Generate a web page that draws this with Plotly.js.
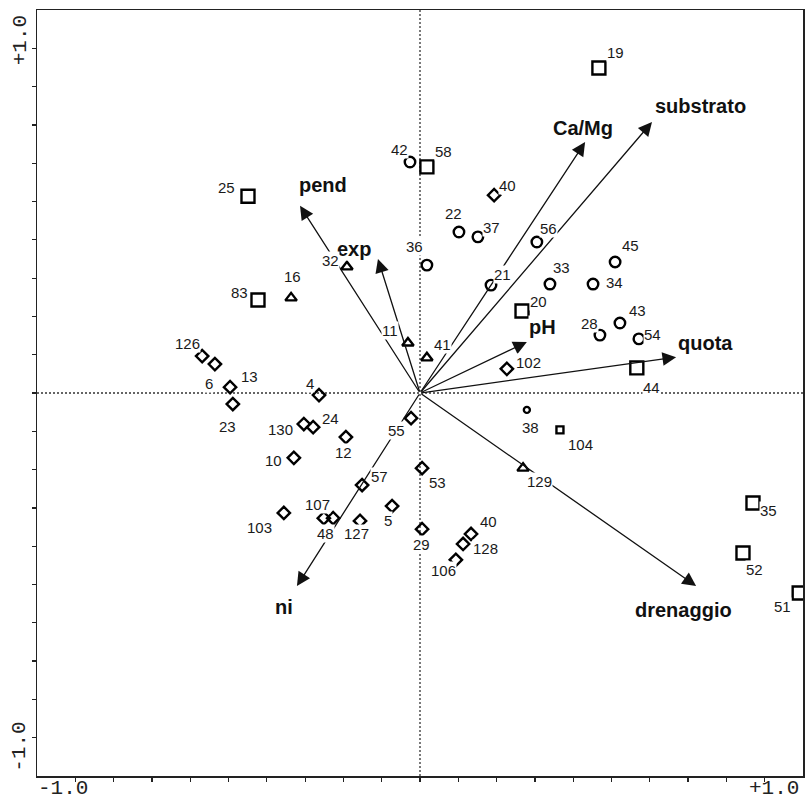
<!DOCTYPE html>
<html><head><meta charset="utf-8">
<script src="https://cdn.plot.ly/plotly-3.0.1.min.js"></script>
<style>html,body{margin:0;padding:0;background:#fff}</style>
</head><body><div id="chart" style="width:805px;height:801px"></div>
<script>
// ---------------- DATA ----------------
const squareIds = ['19','58','25','83','20','44','35','52','51','104'];
const squareX = [0.519,0.020,-0.499,-0.470,0.296,0.629,0.966,0.937,1.100,0.406];
const squareY = [0.943,0.656,0.571,0.270,0.238,0.073,-0.319,-0.464,-0.580,-0.107];

const circleIds = ['42','22','37','36','56','21','33','45','34','43','28','54','38'];
const circleX = [-0.029,0.113,0.168,0.020,0.339,0.206,0.377,0.566,0.502,0.580,0.522,0.635,0.310];
const circleY = [0.670,0.467,0.453,0.371,0.438,0.313,0.316,0.380,0.316,0.203,0.168,0.157,-0.049];

const diamondIds = ['40','102','126','6','13','23','4','130','24','12','10','55','53','57','5','103','107','48','127','29','40','128','106'];
const diamondX = [0.215,0.252,-0.632,-0.595,-0.551,-0.543,-0.293,-0.337,-0.310,-0.215,-0.366,-0.026,0.006,-0.168,-0.081,-0.395,-0.279,-0.252,-0.174,0.006,0.148,0.125,0.104];
const diamondY = [0.574,0.070,0.107,0.084,0.017,-0.032,-0.006,-0.090,-0.099,-0.128,-0.188,-0.073,-0.218,-0.267,-0.328,-0.348,-0.363,-0.363,-0.371,-0.395,-0.409,-0.438,-0.484];

const triangleIds = ['32','16','11','41','129'];
const triangleX = [-0.212,-0.374,-0.035,0.020,0.299];
const triangleY = [0.366,0.276,0.145,0.102,-0.218];

const envVars = ['pend','exp','Ca/Mg','substrato','pH','quota','drenaggio','ni'];
const envX = [-0.348,-0.122,0.479,0.673,0.310,0.743,0.801,-0.357];
const envY = [0.543,0.389,0.728,0.786,0.148,0.104,-0.560,-0.560];

const axisTickLabels = ['-1.0','+1.0'];

// ---------------- STYLE / LABEL PLACEMENT (pixels) ----------------
const squareLabelOff = [[17,15],[17,15],[-21,9],[-18,7],[16,9],[15,-20],[16,-8],[12,-17],[-17,-14],[21,-15]];
const circleLabelOff = [[-11,13],[-5,19],[14,9],[-12,19],[12,14],[11,11],[12,17],[15,17],[21,2],[18,13],[-10,12],[14,4],[4,-18]];
const diamondLabelOff = [[13,10],[22,6],[-15,13],[-6,-19],[19,11],[-5,-22],[-9,12],[-23,-5],[17,9],[-2,-15],[-20,-3],[-15,-12],[15,-14],[17,9],[-4,-14],[-24,-15],[-6,14],[-8,-15],[-4,-13],[-1,-15],[17,12],[22,-5],[-12,-11]];
const triangleLabelOff = [[-16,6],[1,21],[-18,13],[16,13],[16,-13]];
const envLabelOff = [[23,21],[-24,10],[-2,14],[49,16],[16,15],[29,14],[-13,-24],[-13,-21]];
const smallIds = ['104','38'];

const INK = '#000';
const R = 10/9;
const ticks = [];
for (let k = -9; k <= 9; k++) ticks.push(k/9);

function sizes(ids, big, small){ return ids.map(id => smallIds.includes(id) ? small : big); }
function mk(xs, ys, ids, symbol, big, small){
  return {type:'scatter', mode:'markers', x:xs, y:ys, text:ids, hoverinfo:'text',
    cliponaxis:true,
    marker:{symbol:symbol, size:sizes(ids,big,small), color:INK, opacity:1,
      line:{color:INK, width:2.4}}};
}
const traces = [
  mk(squareX, squareY, squareIds, 'square-open', 13, 7),
  mk(circleX, circleY, circleIds, 'circle-open', 10.5, 6),
  mk(diamondX, diamondY, diamondIds, 'diamond-open', 9.5, 6),
  mk(triangleX, triangleY, triangleIds, 'triangle-up-open', 10, 6)
];

const ann = [];
// environmental arrows
envVars.forEach((v,i) => {
  ann.push({x:envX[i], y:envY[i], xref:'x', yref:'y', ax:0, ay:0, axref:'x', ayref:'y',
    text:'', showarrow:true, arrowhead:2, arrowsize:2.1, arrowwidth:1.3, arrowcolor:'#111', standoff:0});
});
// arrow labels
envVars.forEach((v,i) => {
  ann.push({x:envX[i], y:envY[i], xref:'x', yref:'y', text:v, showarrow:false,
    xshift:envLabelOff[i][0], yshift:envLabelOff[i][1], xanchor:'center', yanchor:'middle',
    font:{family:'Liberation Sans, Arial, sans-serif', size:20, color:'#111', weight:'bold'},
    bgcolor:'#ffffff', borderpad:0});
});
function labels(xs, ys, ids, offs){
  ids.forEach((id,i) => {
    ann.push({x:xs[i], y:ys[i], xref:'x', yref:'y', text:id, showarrow:false,
      xshift:offs[i][0], yshift:offs[i][1], xanchor:'center', yanchor:'middle',
      font:{family:'Liberation Sans, Arial, sans-serif', size:15, color:'#1a1a1a'},
      bgcolor:'#ffffff', borderpad:0});
  });
}
labels(squareX, squareY, squareIds, squareLabelOff);
labels(circleX, circleY, circleIds, circleLabelOff);
labels(diamondX, diamondY, diamondIds, diamondLabelOff);
labels(triangleX, triangleY, triangleIds, triangleLabelOff);

// axis end labels
const monoFont = {family:'Liberation Mono, DejaVu Sans Mono, monospace', size:21, color:'#222'};
ann.push({x:-1, y:0, xref:'x', yref:'paper', text:axisTickLabels[0], showarrow:false, xanchor:'center', yanchor:'middle', xshift:-12, yshift:-12, font:monoFont});
ann.push({x:1, y:0, xref:'x', yref:'paper', text:axisTickLabels[1], showarrow:false, xanchor:'center', yanchor:'middle', xshift:9, yshift:-12, font:monoFont});
ann.push({x:0, y:1, xref:'paper', yref:'y', text:axisTickLabels[1], showarrow:false, xanchor:'center', yanchor:'middle', xshift:-17, yshift:8, textangle:-90, font:monoFont});
ann.push({x:0, y:-1, xref:'paper', yref:'y', text:axisTickLabels[0], showarrow:false, xanchor:'center', yanchor:'middle', xshift:-17, yshift:-9, textangle:-90, font:monoFont});

const axisCommon = {range:[-R,R], showgrid:false, zeroline:false, showline:true, mirror:true,
  linecolor:'#222', linewidth:1.5, ticks:'outside', ticklen:4, tickwidth:1.2, tickcolor:'#222',
  tickmode:'array', tickvals:ticks, showticklabels:false, fixedrange:true};

const layout = {
  width:805, height:801,
  margin:{l:37, r:2, t:10, b:25},
  paper_bgcolor:'#fff', plot_bgcolor:'#fff',
  showlegend:false,
  xaxis:Object.assign({}, axisCommon),
  yaxis:Object.assign({}, axisCommon),
  shapes:[
    {type:'line', xref:'x', yref:'y', x0:0, x1:0, y0:-R, y1:R, layer:'below', line:{color:'#333', width:1.3, dash:'2px,2px'}},
    {type:'line', xref:'x', yref:'y', x0:-R, x1:R, y0:0, y1:0, layer:'below', line:{color:'#333', width:1.3, dash:'2px,2px'}}
  ],
  annotations:ann
};
Plotly.newPlot('chart', traces, layout, {staticPlot:true});
</script>
</body></html>
